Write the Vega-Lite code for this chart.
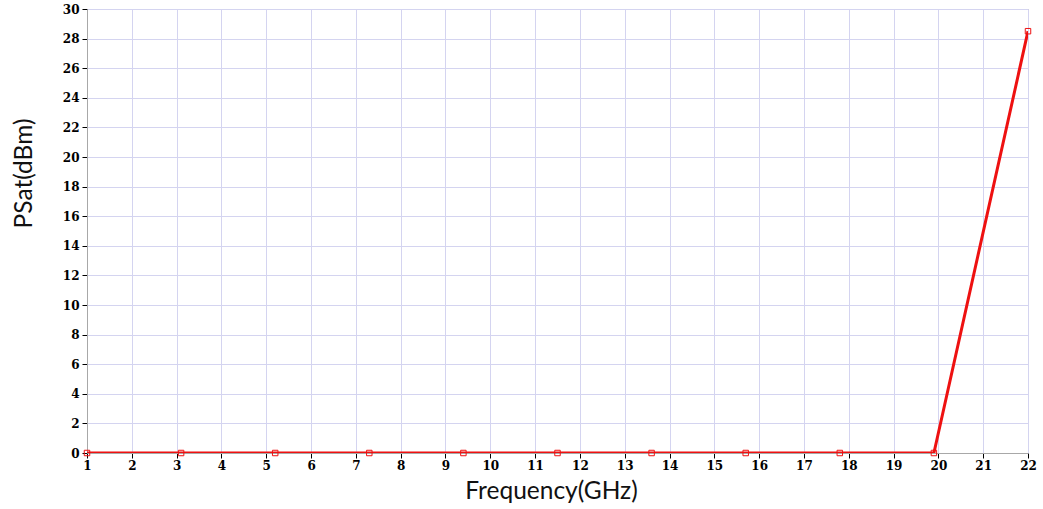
{
  "$schema": "https://vega.github.io/schema/vega-lite/v6.json",
  "autosize": "none",
  "width": 941,
  "height": 444,
  "padding": {"left": 87, "top": 9, "right": 15, "bottom": 56},
  "background": "white",
  "config": {
    "view": {"stroke": "#a8a8a8", "strokeWidth": 1},
    "axis": {
      "labelFont": "DejaVu Serif",
      "labelFontWeight": "bold",
      "labelFontSize": 12,
      "labelColor": "#000000",
      "tickColor": "#000000",
      "tickSize": 5,
      "domainColor": "#a8a8a8",
      "gridColor": "#d4d4f0",
      "gridWidth": 1,
      "titleFont": "Lato",
      "titleFontWeight": "normal",
      "titleFontSize": 24.5,
      "titleColor": "#111111"
    }
  },
  "data": {
    "values": [
      {"f": 1, "p": 0},
      {"f": 3.1, "p": 0},
      {"f": 5.2, "p": 0},
      {"f": 7.3, "p": 0},
      {"f": 9.4, "p": 0},
      {"f": 11.5, "p": 0},
      {"f": 13.6, "p": 0},
      {"f": 15.7, "p": 0},
      {"f": 17.8, "p": 0},
      {"f": 19.9, "p": 0},
      {"f": 22, "p": 28.5}
    ]
  },
  "encoding": {
    "x": {
      "field": "f", "type": "quantitative",
      "scale": {"domain": [1, 22], "nice": false, "zero": false},
      "axis": {"title": "Frequency(GHz)", "values": [1,2,3,4,5,6,7,8,9,10,11,12,13,14,15,16,17,18,19,20,21,22], "labelPadding": 2, "titleX": 464, "titleY": 45, "titleBaseline": "alphabetic", "titleAlign": "center", "labelFlush": false, "labelOverlap": false}
    },
    "y": {
      "field": "p", "type": "quantitative",
      "scale": {"domain": [0, 30], "nice": false},
      "axis": {"title": "PSat(dBm)", "values": [0,2,4,6,8,10,12,14,16,18,20,22,24,26,28,30], "labelPadding": 3, "titleX": -56, "titleY": 164, "titleAngle": -90, "titleBaseline": "alphabetic", "titleAlign": "center", "labelFlush": false, "labelOverlap": false}
    }
  },
  "layer": [
    {"mark": {"type": "line", "color": "#ee1111", "strokeWidth": 3, "clip": true}},
    {"mark": {"type": "point", "shape": "square", "filled": false, "size": 30, "stroke": "#ee1111", "strokeWidth": 1, "fill": "white", "fillOpacity": 0}}
  ]
}
